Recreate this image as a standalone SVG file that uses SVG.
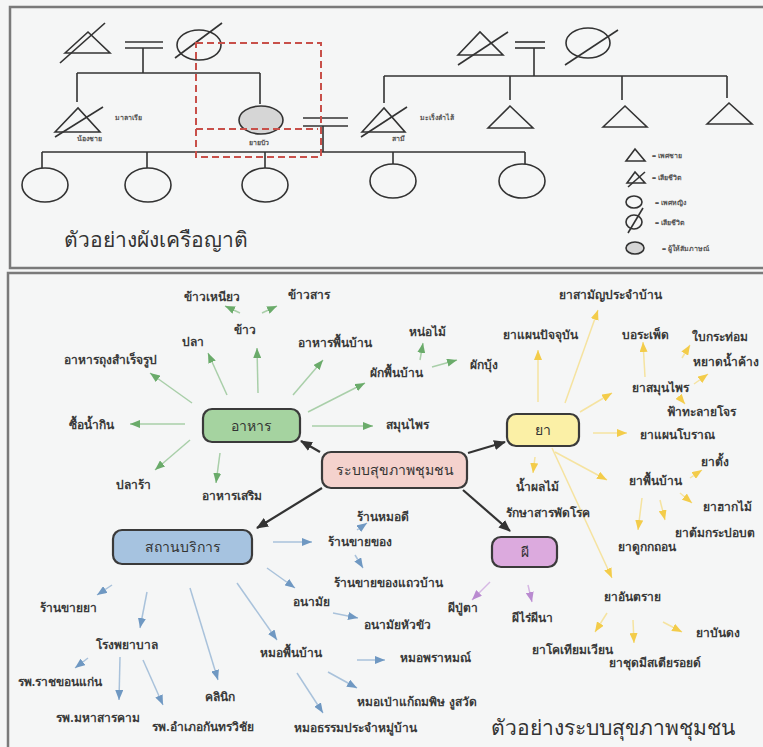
<svg xmlns="http://www.w3.org/2000/svg" width="763" height="747" viewBox="0 0 763 747">
<defs>
<style>
.bg{fill:#f5f6f6}
.frame{fill:#f5f6f6;stroke:#7a7a7a;stroke-width:2.5}
.g{fill:none;stroke:#333;stroke-width:1.6}
.gf{fill:#d6d6d6;stroke:#333;stroke-width:1.6}
.red{fill:none;stroke:#c8504a;stroke-width:2;stroke-dasharray:7,4}
.sm{font-family:"Noto Sans","DejaVu Sans",sans-serif;font-size:7px;font-weight:bold;fill:#555;text-anchor:middle}
.lg{font-family:"Noto Sans","DejaVu Sans",sans-serif;font-size:7px;font-weight:bold;fill:#555}
.cap{font-family:"Noto Sans","DejaVu Sans",sans-serif;font-size:21px;fill:#333}
.lb{font-family:"Noto Sans","DejaVu Sans",sans-serif;font-size:12px;font-weight:bold;fill:#3a3a3a;text-anchor:middle}
.nt{font-family:"Noto Sans","DejaVu Sans",sans-serif;font-size:14px;fill:#333;text-anchor:middle}
.box{stroke:#3a3a3a;stroke-width:2.2}
.lgr{stroke:#a9cfa9;stroke-width:1.5;fill:none;marker-end:url(#ag)}
.lye{stroke:#f5e3a0;stroke-width:1.5;fill:none;marker-end:url(#ay)}
.lbl{stroke:#a9c2db;stroke-width:1.5;fill:none;marker-end:url(#ab)}
.lpu{stroke:#d6b8e4;stroke-width:1.5;fill:none;marker-end:url(#ap)}
.ldk{stroke:#333;stroke-width:2.2;fill:none;marker-end:url(#ad)}
</style>
<marker id="ag" markerUnits="userSpaceOnUse" markerWidth="10" markerHeight="8" refX="10" refY="4" orient="auto"><path d="M0,0 L10,4 L0,8 z" fill="#6aab6a"/></marker>
<marker id="ay" markerUnits="userSpaceOnUse" markerWidth="10" markerHeight="8" refX="10" refY="4" orient="auto"><path d="M0,0 L10,4 L0,8 z" fill="#f3cc4a"/></marker>
<marker id="ab" markerUnits="userSpaceOnUse" markerWidth="10" markerHeight="8" refX="10" refY="4" orient="auto"><path d="M0,0 L10,4 L0,8 z" fill="#6f98c2"/></marker>
<marker id="ap" markerUnits="userSpaceOnUse" markerWidth="10" markerHeight="8" refX="10" refY="4" orient="auto"><path d="M0,0 L10,4 L0,8 z" fill="#b98ad0"/></marker>
<marker id="ad" markerUnits="userSpaceOnUse" markerWidth="12" markerHeight="10" refX="11" refY="5" orient="auto"><path d="M0,0 L12,5 L0,10 z" fill="#333"/></marker>
</defs>
<rect class="bg" x="0" y="0" width="763" height="747"/>
<!-- ===== top panel: genogram ===== -->
<rect class="frame" x="10" y="7" width="760" height="261"/>
<g id="genogram">
<g id="gp-left">
<polygon class="g" points="65,53 88,32 110,53"/><line class="g" x1="60" y1="63" x2="105" y2="23"/>
<line class="g" x1="125" y1="42" x2="163" y2="42"/><line class="g" x1="125" y1="48" x2="163" y2="48"/>
<ellipse class="g" cx="199" cy="45" rx="22" ry="15"/><line class="g" x1="175" y1="58" x2="222" y2="23"/>
</g>
<g id="gp-right">
<polygon class="g" points="458,55 480,32 503,55"/><line class="g" x1="458" y1="65" x2="508" y2="32"/>
<line class="g" x1="515" y1="42" x2="545" y2="42"/><line class="g" x1="515" y1="48" x2="545" y2="48"/>
<ellipse class="g" cx="588" cy="43" rx="22" ry="15"/><line class="g" x1="565" y1="65" x2="618" y2="30"/>
</g>
<g id="brother">
<polygon class="g" points="55,132 78,108 100,132"/><line class="g" x1="55" y1="137" x2="103" y2="107"/>
<text class="sm" x="128" y="120">มาลาเรีย</text><text class="sm" x="89" y="141">น้องชาย</text>
</g>
<g id="yaibua">
<ellipse class="gf" cx="261" cy="120" rx="22" ry="14"/><text class="sm" x="259" y="145">ยายบัว</text>
</g>
<g id="husband">
<polygon class="g" points="362,132 384,108 405,132"/><line class="g" x1="361" y1="137" x2="407" y2="107"/>
<text class="sm" x="437" y="120">มะเร็งลำไส้</text><text class="sm" x="398" y="141">สามี</text>
</g>
<g id="uncles">
<polygon class="g" points="488,128 510,106 533,128"/>
<polygon class="g" points="603,127 625,106 647,127"/>
<polygon class="g" points="707,124 729,103 752,124"/>
</g>
<g id="children">
<ellipse class="g" cx="45" cy="185" rx="23" ry="17"/>
<ellipse class="g" cx="148" cy="185" rx="23" ry="17"/>
<ellipse class="g" cx="265" cy="185" rx="23" ry="17"/>
<ellipse class="g" cx="393" cy="181" rx="23" ry="17"/>
<ellipse class="g" cx="522" cy="181" rx="23" ry="17"/>
</g>
<g id="kin-lines">
<path class="g" d="M143,48 V73 M77,73 H260 M77,73 V102 M260,73 V104"/>
<path class="g" d="M534,48 V76 M384,76 H727 M384,76 V103 M510,76 V100 M622,76 V100 M727,76 V98"/>
<line class="g" x1="303" y1="118" x2="348" y2="118"/><line class="g" x1="303" y1="126" x2="348" y2="126"/>
<path class="g" d="M323,126 V152 M42,152 H525 M42,152 V168 M147,152 V168 M265,152 V168 M393,152 V164 M525,152 V164"/>
</g>
<g id="focus">
<rect class="red" x="196" y="43" width="125" height="114"/>
<line class="red" x1="196" y1="129" x2="318" y2="129"/>
</g>
<g id="legend">
<polygon class="g" points="626,161 635,149 645,161"/><text class="lg" x="652" y="158">= เพศชาย</text>
<polygon class="g" points="627,183 635,172 645,183"/><line class="g" x1="628" y1="187" x2="645" y2="172"/><text class="lg" x="652" y="180">= เสียชีวิต</text>
<ellipse class="g" cx="634" cy="202" rx="8" ry="6"/><text class="lg" x="655" y="205">= เพศหญิง</text>
<ellipse class="g" cx="634" cy="222" rx="8" ry="7"/><line class="g" x1="628" y1="233" x2="643" y2="208"/><text class="lg" x="655" y="225">=  เสียชีวิต</text>
<ellipse class="gf" cx="635" cy="248" rx="9" ry="6"/><text class="lg" x="662" y="251">= ผู้ให้สัมภาษณ์</text>
</g>
<text class="cap" x="64" y="247">ตัวอย่างผังเครือญาติ</text>
</g>
<!-- ===== bottom panel: community health system ===== -->
<rect class="frame" x="8" y="273" width="762" height="480"/>
<g id="connectors">
<!-- core -->
<line class="ldk" x1="320" y1="452" x2="301" y2="441"/>
<line class="ldk" x1="468" y1="453" x2="505" y2="442"/>
<line class="ldk" x1="322" y1="488" x2="257" y2="528"/>
<line class="ldk" x1="463" y1="490" x2="510" y2="531"/>
<!-- food -->
<line class="lgr" x1="240" y1="313" x2="225" y2="306"/>
<line class="lgr" x1="262" y1="313" x2="277" y2="306"/>
<line class="lgr" x1="258" y1="393" x2="257" y2="348"/>
<line class="lgr" x1="227" y1="395" x2="208" y2="353"/>
<line class="lgr" x1="192" y1="403" x2="150" y2="373"/>
<line class="lgr" x1="185" y1="424" x2="130" y2="424"/>
<line class="lgr" x1="190" y1="440" x2="155" y2="470"/>
<line class="lgr" x1="220" y1="453" x2="216" y2="483"/>
<line class="lgr" x1="293" y1="395" x2="323" y2="360"/>
<line class="lgr" x1="308" y1="412" x2="365" y2="383"/>
<line class="lgr" x1="420" y1="360" x2="423" y2="343"/>
<line class="lgr" x1="432" y1="367" x2="457" y2="360"/>
<line class="lgr" x1="312" y1="426" x2="373" y2="426"/>
<!-- medicine -->
<line class="lye" x1="538" y1="402" x2="538" y2="350"/>
<line class="lye" x1="565" y1="403" x2="598" y2="310"/>
<line class="lye" x1="580" y1="412" x2="612" y2="393"/>
<line class="lye" x1="645" y1="377" x2="643" y2="342"/>
<line class="lye" x1="682" y1="358" x2="690" y2="345"/>
<line class="lye" x1="694" y1="384" x2="708" y2="374"/>
<line class="lye" x1="680" y1="398" x2="685" y2="404"/>
<line class="lye" x1="593" y1="433" x2="627" y2="433"/>
<line class="lye" x1="555" y1="452" x2="607" y2="480"/>
<line class="lye" x1="535" y1="457" x2="533" y2="473"/>
<line class="lye" x1="690" y1="478" x2="702" y2="470"/>
<line class="lye" x1="680" y1="493" x2="692" y2="503"/>
<line class="lye" x1="660" y1="500" x2="665" y2="520"/>
<line class="lye" x1="642" y1="498" x2="638" y2="530"/>
<line class="lye" x1="552" y1="448" x2="612" y2="578"/>
<line class="lye" x1="607" y1="613" x2="595" y2="632"/>
<line class="lye" x1="633" y1="620" x2="634" y2="643"/>
<line class="lye" x1="663" y1="622" x2="682" y2="632"/>
<!-- spirits -->
<line class="lpu" x1="490" y1="582" x2="472" y2="600"/>
<line class="lpu" x1="528" y1="585" x2="532" y2="602"/>
<!-- services -->
<line class="lbl" x1="273" y1="542" x2="312" y2="542"/>
<line class="lbl" x1="357" y1="530" x2="367" y2="523"/>
<line class="lbl" x1="355" y1="555" x2="363" y2="568"/>
<line class="lbl" x1="267" y1="568" x2="295" y2="588"/>
<line class="lbl" x1="333" y1="613" x2="358" y2="618"/>
<line class="lbl" x1="237" y1="583" x2="277" y2="640"/>
<line class="lbl" x1="357" y1="660" x2="385" y2="660"/>
<line class="lbl" x1="328" y1="672" x2="357" y2="688"/>
<line class="lbl" x1="297" y1="673" x2="323" y2="713"/>
<line class="lbl" x1="112" y1="585" x2="97" y2="595"/>
<line class="lbl" x1="147" y1="592" x2="140" y2="628"/>
<line class="lbl" x1="88" y1="658" x2="75" y2="668"/>
<line class="lbl" x1="120" y1="657" x2="119" y2="700"/>
<line class="lbl" x1="143" y1="660" x2="163" y2="705"/>
<line class="lbl" x1="190" y1="588" x2="218" y2="680"/>
</g>
<g id="node-core"><rect class="box" x="322" y="452" width="145" height="36" rx="9" fill="#f4d2cd"/><text class="nt" x="394.5" y="475">ระบบสุขภาพชุมชน</text></g>
<g id="node-food"><rect class="box" x="203" y="409" width="97" height="33" rx="9" fill="#a5d3a0"/><text class="nt" x="251.5" y="431">อาหาร</text></g>
<g id="node-med"><rect class="box" x="507" y="414" width="72" height="32" rx="9" fill="#fbf0a6"/><text class="nt" x="543" y="435">ยา</text></g>
<g id="node-service"><rect class="box" x="113" y="530" width="139" height="34" rx="9" fill="#a6c3e0"/><text class="nt" x="182.5" y="552">สถานบริการ</text></g>
<g id="node-spirit"><rect class="box" x="492" y="537" width="65" height="30" rx="9" fill="#dcaade"/><text class="nt" x="524.5" y="557">ผี</text></g>
<g id="labels">
<text class="lb" x="212" y="301">ข้าวเหนียว</text>
<text class="lb" x="309" y="299">ข้าวสาร</text>
<text class="lb" x="245" y="334">ข้าว</text>
<text class="lb" x="193" y="346">ปลา</text>
<text class="lb" x="110" y="364">อาหารถุงสำเร็จรูป</text>
<text class="lb" x="335" y="347">อาหารพื้นบ้าน</text>
<text class="lb" x="427" y="336">หน่อไม้</text>
<text class="lb" x="396" y="377">ผักพื้นบ้าน</text>
<text class="lb" x="484" y="369">ผักบุ้ง</text>
<text class="lb" x="91" y="429">ซื้อน้ำกิน</text>
<text class="lb" x="407" y="429">สมุนไพร</text>
<text class="lb" x="133" y="489">ปลาร้า</text>
<text class="lb" x="232" y="500">อาหารเสริม</text>
<text class="lb" x="610" y="299">ยาสามัญประจำบ้าน</text>
<text class="lb" x="540" y="339">ยาแผนปัจจุบัน</text>
<text class="lb" x="645" y="339">บอระเพ็ด</text>
<text class="lb" x="720" y="341">ใบกระท่อม</text>
<text class="lb" x="726" y="366">หยาดน้ำค้าง</text>
<text class="lb" x="660" y="392">ยาสมุนไพร</text>
<text class="lb" x="701" y="416">ฟ้าทะลายโจร</text>
<text class="lb" x="677" y="439">ยาแผนโบราณ</text>
<text class="lb" x="715" y="466">ยาตั้ง</text>
<text class="lb" x="655" y="485">ยาพื้นบ้าน</text>
<text class="lb" x="537" y="491">น้ำผลไม้</text>
<text class="lb" x="727" y="511">ยาฮากไม้</text>
<text class="lb" x="548" y="517">รักษาสารพัดโรค</text>
<text class="lb" x="715" y="537">ยาต้มกระปอบต</text>
<text class="lb" x="647" y="551">ยาดูกกถอน</text>
<text class="lb" x="632" y="601">ยาอันตราย</text>
<text class="lb" x="718" y="637">ยาบันดง</text>
<text class="lb" x="572" y="654">ยาโคเทียมเวียน</text>
<text class="lb" x="655" y="667">ยาชุดมีสเตียรอยด์</text>
<text class="lb" x="463" y="612">ผีปู่ตา</text>
<text class="lb" x="532" y="622">ผีไร่ผีนา</text>
<text class="lb" x="383" y="521">ร้านหมอดี</text>
<text class="lb" x="360" y="546">ร้านขายของ</text>
<text class="lb" x="388" y="587">ร้านขายของแถวบ้าน</text>
<text class="lb" x="311" y="606">อนามัย</text>
<text class="lb" x="397" y="629">อนามัยหัวขัว</text>
<text class="lb" x="291" y="657">หมอพื้นบ้าน</text>
<text class="lb" x="435" y="662">หมอพราหมณ์</text>
<text class="lb" x="417" y="706">หมอเป่าแก้ถมพิษ งูสวัด</text>
<text class="lb" x="355" y="732">หมอธรรมประจำหมู่บ้าน</text>
<text class="lb" x="68" y="612">ร้านขายยา</text>
<text class="lb" x="127" y="649">โรงพยาบาล</text>
<text class="lb" x="60" y="686">รพ.ราชขอนแก่น</text>
<text class="lb" x="98" y="722">รพ.มหาสารคาม</text>
<text class="lb" x="203" y="731">รพ.อำเภอกันทรวิชัย</text>
<text class="lb" x="220" y="701">คลินิก</text>
</g>
<text class="cap" x="491" y="735" font-size="22">ตัวอย่างระบบสุขภาพชุมชน</text>
</svg>
